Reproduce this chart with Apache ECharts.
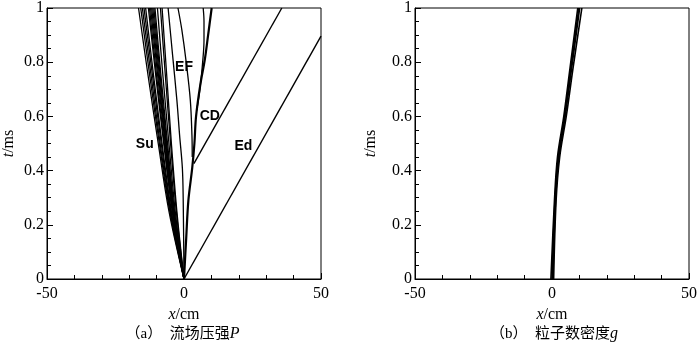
<!DOCTYPE html>
<html>
<head>
<meta charset="utf-8">
<script src="https://cdn.jsdelivr.net/npm/echarts@6/dist/echarts.min.js"></script>
<style>
  html, body { margin: 0; padding: 0; background: #fff; }
  #chart { width: 700px; height: 346px; }
</style>
</head>
<body>
<div id="chart"></div>
<script>
// Time levels (ms) at which the expansion-fan characteristics are sampled
const tLevels = [0, 0.25, 0.5, 0.75, 1.0];

// Su: rarefaction fan characteristics, x (cm) at each time level
const suFan = [
  [0, -5.5, -9.4, -13.1, -16.6],
  [0, -5.2, -9.0, -12.5, -15.8],
  [0, -5.0, -8.7, -12.0, -15.2],
  [0, -4.8, -8.3, -11.5, -14.6],
  [0, -4.6, -8.0, -11.1, -14.0],
  [0, -4.3, -7.4, -10.3, -13.0],
  [0, -4.2, -7.2, -10.0, -12.6],
  [0, -4.0, -6.9, -9.6, -12.2],
  [0, -3.9, -6.7, -9.3, -11.8],
  [0, -3.8, -6.5, -9.0, -11.4],
  [0, -3.6, -6.3, -8.7, -11.0],
  [0, -3.5, -6.0, -8.4, -10.6],
  [0, -3.2, -5.5, -7.7, -9.7],
  [0, -2.8, -4.9, -6.8, -8.6],
  [0, -2.6, -4.6, -6.3, -8.0]
];

// EF: curved characteristics bending back from the contact region, [x (cm), t (ms)]
const efLine1 = [[0, 0], [-0.3, 0.3], [-0.6, 0.41], [-1.6, 0.53], [-2.6, 0.66], [-4.2, 0.83], [-5.8, 1.0]];
const efLine2 = [[3.0, 0.45], [2.9, 0.53], [2.3, 0.66], [0.8, 0.8], [-0.8, 0.92], [-2.2, 1.0]];

// CD: contact discontinuity and its upper branch
const cdLine = [[0, 0], [0.8, 0.15], [1.6, 0.29], [3.0, 0.41], [3.8, 0.5], [4.4, 0.6], [6.0, 0.72], [7.6, 0.81], [8.8, 0.9], [10.1, 1.0]];
const cdBranch = [[4.6, 0.62], [5.8, 0.7], [6.8, 0.8], [7.3, 0.88], [7.3, 0.95], [7.0, 1.0]];

// Transmitted shock leaving the contact, and the leading shock Ed
const shockLine = [[3.6, 0.426], [35.7, 1.0]];
const edLine = [[0, 0], [50, 0.896]];

// Annotation labels
const tagNames = ['Su', 'EF', 'CD', 'Ed'];
const tagX = [-14.3, 0.0, 9.4, 21.7];
const tagT = [0.496, 0.781, 0.60, 0.49];

// Particle number-density band (right panel), [x (cm), t (ms)]
const gLines = [
  [[-0.4, 0], [0.9, 0.29], [2.0, 0.45], [4.3, 0.6], [6.6, 0.78], [9.4, 1.0]],
  [[0.0, 0], [1.1, 0.29], [2.3, 0.45], [4.6, 0.6], [6.9, 0.78], [9.8, 1.0]],
  [[0.3, 0], [1.3, 0.29], [2.5, 0.45], [4.8, 0.6], [7.2, 0.78], [10.1, 1.0]],
  [[0.6, 0], [1.5, 0.29], [2.8, 0.45], [5.2, 0.6], [7.7, 0.78], [10.9, 1.0]]
];

// Axis ranges and captions
const xRange = [-50, 50], xStep = 50;
const tRange = [0, 1], tStep = 0.2;
const captions = [
  { main: '（a）  流场压强', sym: 'P' },
  { main: '（b）  粒子数密度', sym: 'g' }
];

const serif = '"Liberation Serif", "Times New Roman", "Noto Sans CJK SC", serif';

function makeXAxis(gi) {
  return {
    type: 'value', gridIndex: gi, min: xRange[0], max: xRange[1], interval: xStep,
    name: '{i|x}/cm', nameLocation: 'middle', nameGap: 24,
    nameTextStyle: { fontFamily: serif, fontSize: 16, color: '#000',
      rich: { i: { fontFamily: serif, fontStyle: 'italic', fontSize: 16, color: '#000' } } },
    axisLine: { show: true, onZero: false, lineStyle: { color: '#000', width: 1 } },
    axisTick: { show: true, inside: true, length: 6, lineStyle: { color: '#000' } },
    minorTick: { show: true, splitNumber: 5, length: 4, lineStyle: { color: '#000' } },
    axisLabel: { fontFamily: serif, fontSize: 16, color: '#000', margin: 7 },
    splitLine: { show: false }, minorSplitLine: { show: false }
  };
}
function makeYAxis(gi, gap) {
  return {
    type: 'value', gridIndex: gi, min: tRange[0], max: tRange[1], interval: tStep,
    name: '{i|t}/ms', nameLocation: 'middle', nameGap: gap, nameRotate: 90,
    nameTextStyle: { fontFamily: serif, fontSize: 16, color: '#000',
      rich: { i: { fontFamily: serif, fontStyle: 'italic', fontSize: 16, color: '#000' } } },
    axisLine: { show: true, onZero: false, lineStyle: { color: '#000', width: 1 } },
    axisTick: { show: true, inside: true, length: 6, lineStyle: { color: '#000' } },
    minorTick: { show: true, splitNumber: 4, length: 4, lineStyle: { color: '#000' } },
    axisLabel: { fontFamily: serif, fontSize: 16, color: '#000', margin: 3 },
    splitLine: { show: false }, minorSplitLine: { show: false }
  };
}

function lineSeries(points, gi, width, smooth) {
  return {
    type: 'line', xAxisIndex: gi, yAxisIndex: gi, data: points,
    showSymbol: false, symbol: 'none', smooth: smooth ? 0.35 : false,
    lineStyle: { color: '#000', width: width }, silent: true, animation: false, z: 3
  };
}

const series = [];
suFan.forEach(xs => series.push(lineSeries(xs.map((x, i) => [x, tLevels[i]]), 0, 1.3, true)));
series.push(lineSeries(efLine1, 0, 1.3, true));
series.push(lineSeries(efLine2, 0, 1.3, true));
series.push(lineSeries(cdLine, 0, 2.2, true));
series.push(lineSeries(cdBranch, 0, 1.3, true));
series.push(lineSeries(shockLine, 0, 1.4, false));
series.push(lineSeries(edLine, 0, 1.4, false));
gLines.forEach(pts => series.push(lineSeries(pts, 1, 1.6, true)));

series.push({
  type: 'scatter', xAxisIndex: 0, yAxisIndex: 0, symbolSize: 0, silent: true, animation: false, z: 5,
  itemStyle: { color: '#000', opacity: 1 },
  data: tagNames.map((n, i) => ({ name: n, value: [tagX[i], tagT[i]] })),
  label: { show: true, position: 'inside', formatter: p => p.name,
    fontFamily: '"Liberation Sans", Arial, sans-serif', fontWeight: 'bold', fontSize: 14,
    color: '#000', opacity: 1, textBorderWidth: 0 }
});

const grids = [
  { left: 44, top: 7, width: 277, height: 272 },
  { left: 415, top: 7, width: 278, height: 272 }
];

const chart = echarts.init(document.getElementById('chart'), null, { renderer: 'canvas' });
chart.setOption({
  backgroundColor: '#fff',
  animation: false,
  grid: grids.map(g => Object.assign({ show: true, borderColor: '#000', borderWidth: 1, backgroundColor: 'transparent' }, g)),
  xAxis: [makeXAxis(0), makeXAxis(1)],
  yAxis: [makeYAxis(0, 30), makeYAxis(1, 36)],
  series: series,
  graphic: captions.map((c, i) => ({
    type: 'text',
    x: grids[i].left + grids[i].width / 2,
    y: 334,
    style: {
      text: c.main + '{i|' + c.sym + '}',
      align: 'center', verticalAlign: 'middle',
      font: '15px ' + serif, fill: '#000',
      rich: { i: { fontFamily: serif, fontStyle: 'italic', fontSize: 16, fill: '#000' } }
    }
  }))
});
</script>
</body>
</html>
